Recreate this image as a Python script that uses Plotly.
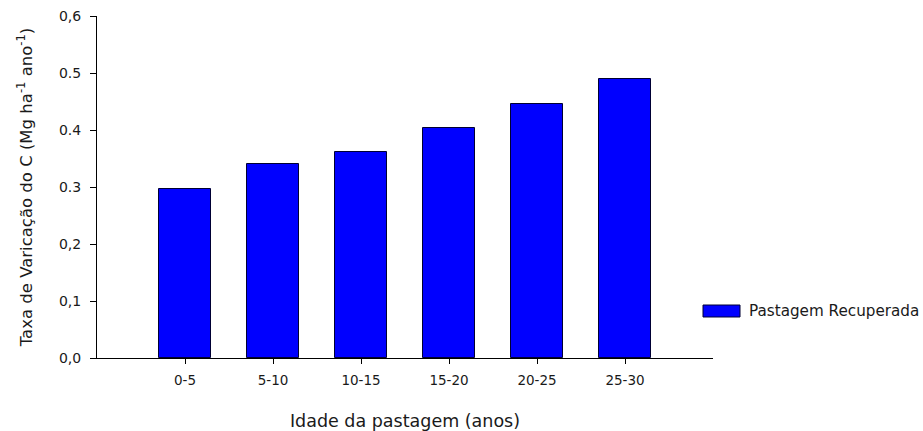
import plotly.graph_objects as go

categories = ["0-5", "5-10", "10-15", "15-20", "20-25", "25-30"]
values = [0.296, 0.340, 0.362, 0.404, 0.446, 0.489]
series_name = "Pastagem Recuperada"
y_tickvals = [0.0, 0.1, 0.2, 0.3, 0.4, 0.5, 0.6]
y_ticktext = ["0,0", "0,1", "0,2", "0.3", "0.4", "0.5", "0,6"]

FONT = "DejaVu Sans, Liberation Sans, Arial, sans-serif"
TXT = "#1a1a1a"

fig = go.Figure()
fig.add_trace(go.Bar(
    x=list(range(len(categories))), y=values, name=series_name,
    width=0.6,
    marker=dict(color="#0000FF", line=dict(color="#000033", width=1)),
    showlegend=False,
))

fig.update_layout(
    width=923, height=431,
    margin=dict(l=97, r=210, t=16, b=73, autoexpand=False),
    paper_bgcolor="white", plot_bgcolor="white",
    font=dict(family=FONT, color=TXT, size=13),
    bargap=0,
)
fig.update_xaxes(
    range=[-1, 6], tickmode="array",
    tickvals=list(range(len(categories))), ticktext=categories,
    showline=True, linecolor="black", linewidth=1,
    ticks="outside", ticklen=5, tickcolor="black", tickwidth=1,
    showgrid=False, zeroline=False, ticklabelstandoff=5,
    tickfont=dict(size=13.5, color=TXT),
    title=dict(text="Idade da pastagem (anos)", font=dict(size=17.5, color=TXT), standoff=28),
    automargin=False,
)
fig.update_yaxes(
    range=[0, 0.6], tickmode="array", tickvals=y_tickvals, ticktext=y_ticktext,
    showline=True, linecolor="black", linewidth=1,
    ticks="outside", ticklen=6, tickcolor="black", tickwidth=1,
    showgrid=False, zeroline=False, ticklabelstandoff=6,
    tickfont=dict(size=14, color=TXT),
    title=dict(text="Taxa de Varicação do C (Mg ha<sup>-1</sup> ano<sup>-1</sup>)",
               font=dict(size=16.5, color=TXT), standoff=22),
    automargin=False,
)

# legend swatch and label
fig.add_shape(type="rect", xref="paper", yref="paper",
              x0=(703 - 97) / 616, x1=(740 - 97) / 616,
              y0=(358 - 317) / 342, y1=(358 - 305) / 342,
              fillcolor="#0000FF", line=dict(color="#000033", width=1))
fig.add_annotation(text=series_name, xref="paper", yref="paper",
                   x=(747 - 97) / 616, y=(358 - 311) / 342,
                   xanchor="left", yanchor="middle", showarrow=False,
                   font=dict(size=15.2, color=TXT))

fig.write_html("out.html", config={"displayModeBar": False},
               post_script="document.body.style.margin='0';document.body.style.overflow='hidden';")
